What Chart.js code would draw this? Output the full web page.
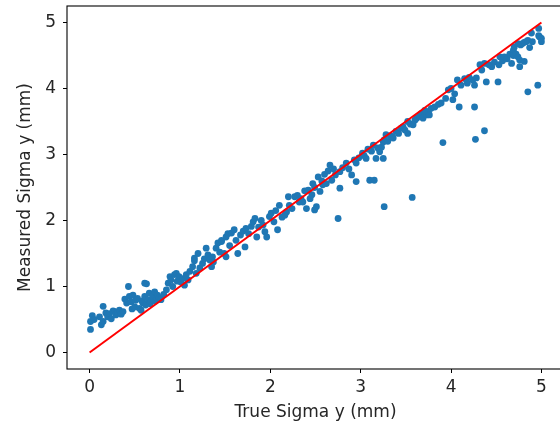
<!DOCTYPE html>
<html>
<head>
<meta charset="utf-8">
<script src="https://cdn.jsdelivr.net/npm/chart.js@4"></script>
<style>
  html, body { margin: 0; padding: 0; background: #fff; overflow: hidden; }
  canvas { display: block; }
</style>
</head>
<body>
<canvas id="chart" width="580" height="426"></canvas>
<script>
// points, grouped by x band
const trueSigma = [
  0.01, 0.01, 0.03, 0.05, 0.11, 0.13, 0.15, 0.15, 0.18, 0.20, 0.22, 0.24, 0.26, 0.28, 0.29, 0.31, 0.33, 0.35, 0.37, 0.39, 0.41, 0.43, 0.44, 0.46, 0.47, 0.48,
  0.50, 0.51, 0.53, 0.55, 0.57, 0.58, 0.59, 0.61, 0.63, 0.61, 0.62, 0.65, 0.66, 0.67, 0.68, 0.70, 0.72, 0.73, 0.74, 0.75, 0.77, 0.79, 0.82, 0.85, 0.87, 0.89, 0.90, 0.92, 0.94, 0.96, 0.97, 0.99,
  1.01, 1.03, 1.05, 1.07, 1.09, 1.11, 1.14, 1.16, 1.16, 1.18, 1.20, 1.22, 1.25, 1.27, 1.29, 1.31, 1.33, 1.35, 1.36, 1.37, 1.40, 1.42, 1.44, 1.46, 1.46, 1.49,
  1.51, 1.51, 1.53, 1.55, 1.57, 1.60, 1.62, 1.64, 1.67, 1.70, 1.72, 1.73, 1.76, 1.79, 1.81, 1.83, 1.85, 1.87, 1.90, 1.92, 1.94, 1.96, 1.99,
  2.01, 2.04, 2.06, 2.08, 2.10, 2.13, 2.16, 2.18, 2.20, 2.21, 2.24, 2.27, 2.30, 2.32, 2.34, 2.36, 2.38, 2.40, 2.42, 2.44, 2.46, 2.47, 2.49, 2.49,
  2.51, 2.53, 2.55, 2.57, 2.58, 2.60, 2.62, 2.64, 2.66, 2.68, 2.70, 2.72, 2.75, 2.77, 2.77, 2.80, 2.84, 2.87, 2.90, 2.93, 2.95, 2.95, 2.98,
  3.02, 3.04, 3.06, 3.08, 3.10, 3.12, 3.14, 3.15, 3.17, 3.19, 3.21, 3.23, 3.25, 3.25, 3.26, 3.26, 3.28, 3.30, 3.33, 3.35, 3.36, 3.39, 3.42, 3.45, 3.47, 3.49,
  3.52, 3.52, 3.55, 3.57, 3.58, 3.60, 3.62, 3.65, 3.67, 3.69, 3.71, 3.73, 3.75, 3.76, 3.78, 3.82, 3.86, 3.89, 3.91, 3.94, 3.97,
  4.00, 4.02, 4.04, 4.07, 4.09, 4.11, 4.15, 4.18, 4.20, 4.24, 4.26, 4.26, 4.27, 4.28, 4.32, 4.34, 4.37, 4.37, 4.39, 4.42, 4.45, 4.48,
  4.52, 4.53, 4.54, 4.57, 4.59, 4.62, 4.65, 4.67, 4.69, 4.69, 4.70, 4.72, 4.74, 4.74, 4.76, 4.76, 4.77, 4.79, 4.81, 4.81, 4.83, 4.85, 4.85, 4.87, 4.89, 4.90, 4.96, 4.97, 4.97, 4.98, 5.00, 5.00
];
const measuredSigma = [
  0.35, 0.47, 0.56, 0.50, 0.54, 0.42, 0.47, 0.70, 0.60, 0.54, 0.59, 0.51, 0.63, 0.62, 0.57, 0.60, 0.64, 0.58, 0.62, 0.81, 0.75, 1.00, 0.85, 0.77, 0.66, 0.87,
  0.69, 0.79, 0.82, 0.67, 0.64, 0.78, 0.75, 1.05, 1.04, 0.85, 0.72, 0.80, 0.90, 0.74, 0.77, 0.85, 0.92, 0.78, 0.80, 0.87, 0.83, 0.80, 0.88, 0.95, 1.05, 1.15, 1.10, 1.00, 1.18, 1.20, 1.08, 1.15,
  1.07, 1.12, 1.02, 1.18, 1.10, 1.23, 1.30, 1.39, 1.43, 1.20, 1.50, 1.28, 1.35, 1.42, 1.58, 1.48, 1.40, 1.30, 1.45, 1.37, 1.58, 1.66, 1.52, 1.68, 1.70, 1.50,
  1.45, 1.75, 1.80, 1.62, 1.81, 1.86, 1.70, 1.50, 1.78, 1.84, 1.60, 1.88, 1.80, 1.91, 1.98, 2.03, 1.75, 1.90, 2.00, 1.93, 1.83, 1.75, 2.06,
  2.11, 1.98, 2.15, 1.86, 2.23, 2.05, 2.08, 2.13, 2.36, 2.23, 2.18, 2.36, 2.38, 2.28, 2.33, 2.28, 2.45, 2.18, 2.46, 2.33, 2.39, 2.56, 2.16, 2.50,
  2.21, 2.66, 2.44, 2.60, 2.54, 2.70, 2.56, 2.75, 2.84, 2.61, 2.78, 2.69, 2.03, 2.49, 2.74, 2.80, 2.87, 2.78, 2.69, 2.92, 2.59, 2.87, 2.95,
  3.02, 2.98, 2.94, 3.08, 2.61, 3.05, 3.14, 2.61, 2.94, 3.10, 3.04, 3.11, 2.94, 3.19, 2.21, 3.22, 3.30, 3.20, 3.28, 3.27, 3.25, 3.35, 3.32, 3.40, 3.42, 3.37,
  3.32, 3.50, 3.46, 2.35, 3.45, 3.52, 3.55, 3.58, 3.62, 3.55, 3.67, 3.60, 3.65, 3.60, 3.70, 3.72, 3.76, 3.78, 3.18, 3.85, 3.98,
  4.00, 3.83, 3.92, 4.13, 3.72, 4.05, 4.15, 4.08, 4.17, 4.13, 4.05, 3.72, 3.23, 4.16, 4.36, 4.28, 4.38, 3.36, 4.10, 4.36, 4.33, 4.40,
  4.10, 4.36, 4.48, 4.42, 4.48, 4.45, 4.52, 4.38, 4.58, 4.50, 4.63, 4.52, 4.68, 4.48, 4.43, 4.33, 4.66, 4.68, 4.41, 4.70, 4.71, 3.95, 4.73, 4.62, 4.84, 4.71, 4.05, 4.91, 4.80, 4.78, 4.76, 4.71
];
// the red y = x reference line
const lineX = [0, 5];
const lineY = [0, 5];
const xTickValues = [0, 1, 2, 3, 4, 5];
const yTickValues = [0, 1, 2, 3, 4, 5];

const tickFont = { family: 'DejaVu Sans', size: 17 };

// matplotlib style frame around the plot area, drawn over the data
const framePlugin = {
  id: 'frame',
  afterDatasetsDraw(chart) {
    const { ctx, chartArea } = chart;
    ctx.save();
    ctx.strokeStyle = '#000';
    ctx.lineWidth = 1.1;
    ctx.strokeRect(chartArea.left, chartArea.top, chartArea.right - chartArea.left, chartArea.bottom - chartArea.top);
    ctx.restore();
  }
};

function fixedTicks(values) {
  return scale => { scale.ticks = values.map(v => ({ value: v })); };
}

const ctx = document.getElementById('chart').getContext('2d');
new Chart(ctx, {
  type: 'scatter',
  data: {
    datasets: [{
      type: 'line',
      data: lineX.map((x, i) => ({ x: x, y: lineY[i] })),
      borderColor: '#ff0000',
      borderWidth: 2,
      pointRadius: 0,
      fill: false
    }, {
      data: trueSigma.map((x, i) => ({ x: x, y: measuredSigma[i] })),
      backgroundColor: '#1f77b4',
      borderWidth: 0,
      pointRadius: 3.4
    }]
  },
  options: {
    responsive: false,
    animation: false,
    devicePixelRatio: 1,
    layout: { padding: { top: 6, right: 16, left: 0, bottom: 0 } },
    plugins: {
      legend: { display: false },
      tooltip: { enabled: false }
    },
    scales: {
      x: {
        type: 'linear',
        min: -0.25,
        max: 5.25,
        afterBuildTicks: fixedTicks(xTickValues),
        afterFit: scale => {
          scale.height = 57;
          scale.paddingLeft = 0;
          scale.paddingRight = 0;
        },
        border: { display: false },
        grid: { drawOnChartArea: false, tickLength: 4, color: '#000', lineWidth: 1 },
        ticks: { font: tickFont, color: '#262626', padding: 4 },
        title: {
          display: true,
          text: 'True Sigma y (mm)',
          font: tickFont,
          color: '#262626',
          padding: { top: 0, bottom: 3 }
        }
      },
      y: {
        type: 'linear',
        min: -0.25,
        max: 5.25,
        afterBuildTicks: fixedTicks(yTickValues),
        afterFit: scale => {
          scale.width = 67;
          scale.paddingTop = 0;
          scale.paddingBottom = 0;
        },
        border: { display: false },
        grid: { drawOnChartArea: false, tickLength: 4, color: '#000', lineWidth: 1 },
        ticks: { font: tickFont, color: '#262626', padding: 7 },
        title: {
          display: true,
          text: 'Measured Sigma y (mm)',
          font: tickFont,
          color: '#262626',
          padding: { top: 15, bottom: 0 }
        }
      }
    }
  },
  plugins: [framePlugin]
});
</script>
</body>
</html>
